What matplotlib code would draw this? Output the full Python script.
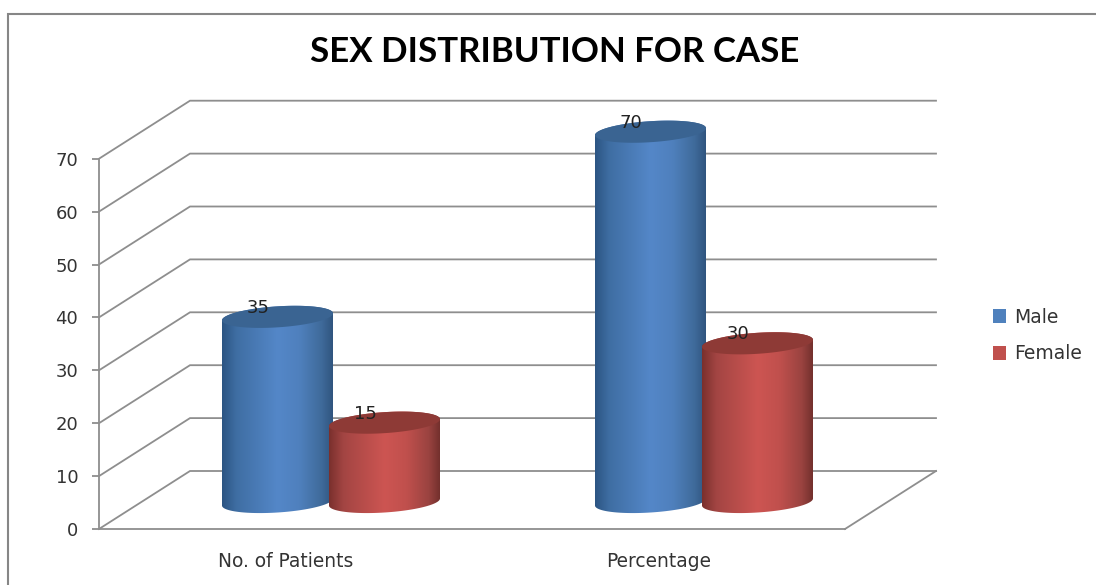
import numpy as np
import matplotlib
matplotlib.use("Agg")
import matplotlib.pyplot as plt
from matplotlib.colors import LinearSegmentedColormap
from matplotlib.lines import Line2D
from matplotlib.patches import Patch, Polygon
from matplotlib.path import Path

categories = ["No. of Patients", "Percentage"]
male = [35, 70]
female = [15, 30]
value_ticks = [0, 10, 20, 30, 40, 50, 60, 70]
chart_title = "SEX DISTRIBUTION FOR CASE"

W, H = 1096, 585
GRID = "#8e8e8e"
TEXT = "#333333"

# plot box in pixels (front plane); y range runs past 70 so tall bars are not clipped
PX_LEFT, PX_RIGHT, PX_ZERO, PX_PER_UNIT = 99, 845, 529, 5.29
Y_TOP = 80
X_LO, X_HI = -0.5, 1.5
PX_PER_CAT = (PX_RIGHT - PX_LEFT) / (X_HI - X_LO)

# 3D look: how far the back wall is shifted from the front plane
DEPTH_X = 91 / PX_PER_CAT
DEPTH_Y = 58 / PX_PER_UNIT

BAR_OFFSET = 53.5 / PX_PER_CAT
BAR_HALF = 55.5 / PX_PER_CAT
BAR_SHIFT = 45.5 / PX_PER_CAT
BAR_BASE = 27 / PX_PER_UNIT
ELL_B = 10.5 / PX_PER_UNIT
ELL_TILT = 3.5 / PX_PER_UNIT

blue_map = LinearSegmentedColormap.from_list(
    "cyl_blue", [(0, "#2c5583"), (0.13, "#3f6ea3"), (0.5, "#5487c8"), (0.7, "#4f80bd"),
                 (0.9, "#3f6a9a"), (1, "#30557f")])
red_map = LinearSegmentedColormap.from_list(
    "cyl_red", [(0, "#7a302d"), (0.13, "#a34543"), (0.5, "#cd5552"), (0.7, "#c0504d"),
                (0.9, "#9a4340"), (1, "#73302d")])


def ellipse_pts(cx, cy, t):
    return cx + BAR_HALF * np.cos(t), cy + ELL_B * np.sin(t) + ELL_TILT * np.cos(t)


def draw_cylinder(ax, cx, value, cmap, top_color, z):
    y_bot = BAR_BASE
    y_top = BAR_BASE + value

    # body outline: over the top ellipse, then back under the bottom one
    tx, ty = ellipse_pts(cx, y_top, np.linspace(np.pi, 0, 80))
    bx, by = ellipse_pts(cx, y_bot, np.linspace(0, -np.pi, 80))
    body = np.column_stack((np.r_[tx, bx], np.r_[ty, by]))

    gradient = np.linspace(0, 1, 256).reshape(1, -1)
    im = ax.imshow(gradient, cmap=cmap, aspect="auto", zorder=z,
                   extent=(cx - BAR_HALF, cx + BAR_HALF, y_bot - 5, y_top + 5))
    im.set_clip_path(Path(np.vstack((body, body[0])), closed=True), ax.transData)

    fx, fy = ellipse_pts(cx, y_top, np.linspace(0, 2 * np.pi, 160))
    ax.add_patch(Polygon(np.column_stack((fx, fy)), closed=True, fc=top_color,
                         ec="none", zorder=z + 0.1, clip_on=False))

    ax.annotate(str(value), (cx, y_top), xytext=(-14, 6.4), textcoords="offset points",
                ha="center", va="center", fontsize=13, color="#222222",
                zorder=z + 0.2, annotation_clip=False)


fig = plt.figure(figsize=(W / 100, H / 100), dpi=100, facecolor="white")
ax = fig.add_axes([PX_LEFT / W, (H - PX_ZERO) / H, (PX_RIGHT - PX_LEFT) / W,
                   Y_TOP * PX_PER_UNIT / H])
ax.patch.set_alpha(0)

# back wall and side wall gridlines
for v in value_ticks:
    ax.plot([X_LO, X_LO + DEPTH_X, X_HI + DEPTH_X], [v, v + DEPTH_Y, v + DEPTH_Y],
            color=GRID, lw=1.3, clip_on=False, zorder=1, solid_joinstyle="miter")
# right edge of the floor
ax.plot([X_HI + DEPTH_X, X_HI], [DEPTH_Y, 0], color=GRID, lw=1.3, clip_on=False, zorder=1)

for i in range(len(categories)):
    draw_cylinder(ax, i + BAR_SHIFT - BAR_OFFSET, male[i], blue_map, "#3a6492", 3)
    draw_cylinder(ax, i + BAR_SHIFT + BAR_OFFSET, female[i], red_map, "#8e3a36", 4)

ax.set_xlim(X_LO, X_HI)
ax.set_ylim(0, Y_TOP)
ax.set_xticks(range(len(categories)))
ax.set_xticklabels(categories, fontsize=13.4, color=TEXT)
ax.set_yticks(value_ticks)
ax.tick_params(axis="y", length=5, width=1.3, color=GRID, labelsize=13,
               labelcolor=TEXT, pad=10)
ax.tick_params(axis="x", length=0, pad=16.5)

for side in ("top", "right"):
    ax.spines[side].set_visible(False)
for side in ("left", "bottom"):
    ax.spines[side].set_color(GRID)
    ax.spines[side].set_linewidth(1.3)
ax.spines["left"].set_bounds(0, value_ticks[-1])

fig.text(555 / W, 1 - 52 / H, chart_title, ha="center", va="center", fontsize=25.1,
         fontweight="bold", family="Lato", color="black")

handles = [Patch(facecolor="#4f81bd", label="Male"), Patch(facecolor="#c0504d", label="Female")]
fig.legend(handles=handles, loc="center left", bbox_to_anchor=(987 / W, 1 - 335.5 / H),
           frameon=False, fontsize=13.5, labelcolor=TEXT, handlelength=0.72, handleheight=0.72,
           handletextpad=0.4, labelspacing=0.95, borderpad=0.3, borderaxespad=0)

# chart area border, running off the top right of the canvas
fig.add_artist(Line2D([7.8 / W, 7.8 / W, 1.0], [0, 1 - 14 / H, 1 - 14 / H], color="#868686", lw=1.5,
                      solid_joinstyle="miter"))

fig.savefig("out.png", dpi=100)
